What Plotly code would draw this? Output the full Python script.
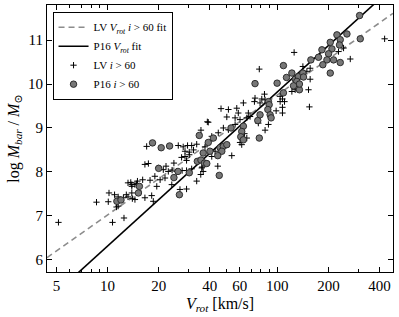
import numpy as np
import plotly.graph_objects as go

# ---- data ----
# LV sample (i > 60): rotation velocity [km/s], log baryonic mass
lv_vrot = [5.14, 8.61, 10.2, 10.1, 11.55, 10.7, 12.5, 12.9, 13.9, 14.8, 13.2, 13.9,
           11.0, 11.55, 12.4, 13.2, 14.0, 14.5, 16.6, 18.2, 11.3,
           38.7, 35.5, 17.0, 26.1, 27.9, 29.6, 31.3, 33.5, 28.6, 30.3, 32.1, 30.3,
           27.3, 28.6, 29.2, 24.6, 16.6, 17.4, 22.1, 19.9, 21.3, 22.8, 24.0, 25.5,
           27.5, 29.2, 19.0, 20.4, 21.8, 17.8, 16.1, 15.0, 13.7, 14.5, 13.9, 26.7,
           29.2, 23.9, 36.1, 35.4, 36.6, 31.3,
           125.6, 78.3, 126.0, 121.8, 127.4, 84.0, 81.0, 73.9, 73.3, 79.1, 84.7,
           103.9, 107.2, 110.2, 103.9, 98.4, 107.2, 107.2, 63.1, 57.7, 51.5, 46.6,
           58.9, 56.4, 60.3, 67.5, 69.1, 66.1, 39.2, 48.1, 50.4, 44.9, 41.1, 51.5,
           56.4, 84.7, 77.3, 88.6, 64.0, 66.1, 61.7, 53.9, 44.6, 35.9, 33.5, 41.1,
           37.5, 43.0, 428.5, 268.9, 141.4, 156.1, 149.3, 156.1, 152.6, 154.5,
           229.3, 245.5, 60.3, 19.5, 18.6]
lv_logm = [6.85, 7.31, 7.52, 7.32, 7.22, 6.85, 6.95, 7.48, 7.71, 7.73, 7.75, 7.52,
           7.48, 7.43, 7.41, 7.43, 7.39, 7.37, 7.41, 7.46, 7.20,
           9.14, 8.95, 8.58, 8.60, 8.57, 8.60, 8.60, 8.63, 8.47, 8.45, 8.50, 8.39,
           8.33, 8.35, 8.26, 8.20, 8.17, 8.19, 8.13, 8.09, 8.05, 8.01, 8.04, 8.01,
           8.03, 8.03, 7.90, 7.82, 7.86, 7.81, 7.82, 7.79, 7.76, 7.71, 7.67, 7.60,
           7.61, 7.71, 8.11, 7.94, 8.01, 8.07,
           10.72, 10.34, 9.98, 9.83, 9.87, 9.77, 9.66, 9.68, 9.60, 9.57, 9.64,
           9.72, 9.66, 9.60, 9.60, 9.39, 9.47, 9.34, 9.57, 9.45, 9.42, 9.44,
           9.34, 9.23, 9.19, 9.34, 9.26, 9.23, 9.13, 9.00, 9.25, 8.89, 8.81, 8.96,
           9.08, 8.95, 9.11, 9.08, 8.87, 8.77, 8.62, 8.37, 8.13, 8.09, 7.79, 8.35,
           8.57, 8.47, 11.03, 10.57, 10.40, 10.36, 10.29, 10.11, 9.87, 9.48,
           10.74, 10.82, 8.67, 7.67, 7.33]

# P16 sample (i > 60)
p16_vrot = [18.4, 20.7, 23.2, 34.7, 39.2, 20.0, 26.0, 24.6, 33.8, 35.5, 37.2, 30.3,
            15.4, 15.2, 11.35, 12.0, 26.5, 108.6, 73.9, 99.7, 113.2, 121.8, 127.4,
            133.2, 134.9, 108.6, 88.6, 89.5, 87.9, 90.7, 91.9, 76.7, 79.1, 53.4,
            63.1, 61.7, 60.9, 63.1, 78.3, 42.0, 46.0, 48.1, 50.4, 47.1, 44.6, 40.1,
            36.6, 38.4, 45.5, 305.1, 308.0, 257.0, 224.4, 234.7, 232.3, 205.0,
            209.7, 183.1, 200.3, 195.9, 214.3, 234.7, 185.4, 205.0, 157.6, 174.8,
            141.4, 142.6, 130.3, 134.9, 124.5]
p16_logm = [8.66, 8.55, 8.59, 8.83, 8.67, 8.08, 8.01, 7.87, 8.24, 8.27, 8.20, 7.98,
            7.67, 7.52, 7.33, 7.36, 7.48, 10.42, 10.01, 10.02, 10.15, 10.25, 10.11,
            10.17, 9.87, 9.80, 9.60, 9.53, 9.42, 9.30, 9.23, 9.17, 9.30, 9.00,
            9.04, 8.92, 8.80, 8.73, 8.77, 8.77, 8.55, 8.58, 8.62, 8.47, 8.37, 8.47,
            8.43, 8.19, 7.92, 11.56, 11.03, 11.14, 11.12, 11.01, 10.89, 10.95,
            10.80, 10.78, 10.69, 10.55, 10.55, 10.49, 10.44, 10.25, 10.55, 10.61,
            10.25, 10.16, 10.06, 10.00, 9.96]

# fits: log M = slope * log V + intercept
lv_fit = {"slope": 2.73, "intercept": 4.29}
p16_fit = {"slope": 3.51, "intercept": 2.80}

x_range = [4.4, 480]
y_range = [5.72, 11.8]
x_ticks = [5, 10, 20, 40, 60, 100, 200, 400]
x_minor = [6, 7, 8, 9, 30, 50, 70, 80, 90, 300]
y_ticks = [6, 7, 8, 9, 10, 11]

vfit = np.logspace(np.log10(x_range[0]), np.log10(x_range[1]), 50)

FONT = "Liberation Serif, Times New Roman, DejaVu Serif, serif"

fig = go.Figure()
fig.add_trace(go.Scatter(
    x=vfit, y=lv_fit["slope"] * np.log10(vfit) + lv_fit["intercept"],
    mode="lines", line=dict(color="#8c8c8c", width=1.6, dash="6px,4px"),
    name="LV <i>V<sub>rot</sub></i> <i>i</i> > 60 fit"))
fig.add_trace(go.Scatter(
    x=vfit, y=p16_fit["slope"] * np.log10(vfit) + p16_fit["intercept"],
    mode="lines", line=dict(color="black", width=1.6),
    name="P16 <i>V<sub>rot</sub></i> fit"))
fig.add_trace(go.Scatter(
    x=lv_vrot, y=lv_logm, mode="markers",
    marker=dict(symbol="cross-thin", size=4.5, line=dict(color="black", width=1), color="black"),
    name="LV <i>i</i> > 60"))
fig.add_trace(go.Scatter(
    x=p16_vrot, y=p16_logm, mode="markers",
    marker=dict(symbol="circle", size=6.5, color="#777777", line=dict(color="#222222", width=0.9)),
    name="P16 <i>i</i> > 60"))

axis_common = dict(showline=True, linecolor="black", linewidth=1, mirror="ticks",
                   ticks="inside", ticklen=5, tickwidth=1, tickcolor="black",
                   showgrid=False, zeroline=False, automargin=False,
                   tickfont=dict(family=FONT, size=15, color="black"))

fig.update_xaxes(type="log", range=[np.log10(x_range[0]), np.log10(x_range[1])],
                 tickmode="array", tickvals=x_ticks, ticktext=[str(t) for t in x_ticks],
                 minor=dict(tickmode="array", tickvals=x_minor, ticks="inside",
                            ticklen=3, tickwidth=1, tickcolor="black"),
                 title=dict(text="<i>V<sub>rot</sub></i> [km/s]", standoff=4,
                            font=dict(family=FONT, size=16, color="black")),
                 **axis_common)
fig.update_yaxes(range=y_range, tickmode="array", tickvals=y_ticks,
                 title=dict(text="log <i>M<sub>bar</sub></i> / <i>M</i><sub>⊙</sub>", standoff=4,
                            font=dict(family=FONT, size=16, color="black")),
                 **axis_common)

fig.update_layout(
    width=399, height=317,
    margin=dict(l=47, r=6, t=5, b=45),
    paper_bgcolor="white", plot_bgcolor="white",
    showlegend=True,
    legend=dict(x=0.016, y=0.975, xanchor="left", yanchor="top",
                bgcolor="white", bordercolor="black", borderwidth=1,
                font=dict(family=FONT, size=11, color="black"),
                tracegroupgap=0, itemwidth=30),
)

fig.write_html("out.html", config={"displayModeBar": False},
               post_script="document.body.style.margin='0';document.body.style.padding='0';")
